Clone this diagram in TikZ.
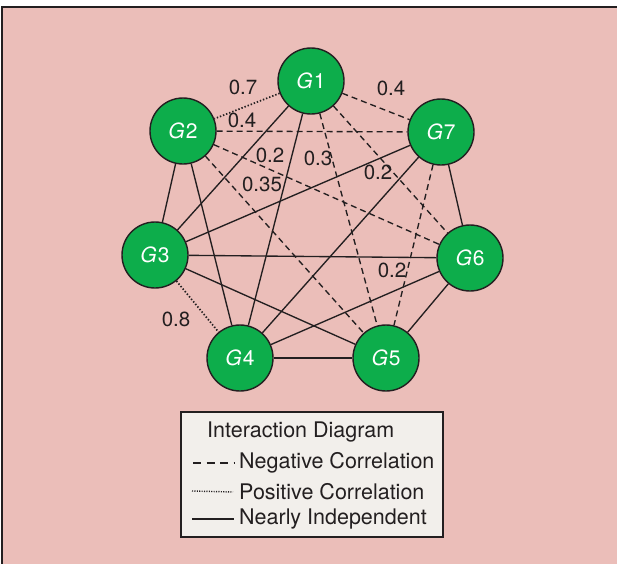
\documentclass[tikz,border=0pt]{standalone}
\usepackage{fontspec}
\setmainfont{TeX Gyre Heros}
\definecolor{bgpink}{RGB}{235,190,185}
\definecolor{gnode}{RGB}{13,173,75}
\definecolor{ink}{RGB}{35,31,32}
\definecolor{legfill}{RGB}{242,239,235}
\begin{document}
\begin{tikzpicture}[x=1pt,y=-1pt,
  gene/.style={circle,draw=ink,line width=1.4pt,fill=gnode,minimum size=66pt,inner sep=0pt,
    text=white,font=\fontsize{21}{22}\selectfont},
  indep/.style={draw=ink,line width=1.35pt},
  negcor/.style={draw=ink,line width=1.35pt,dash pattern=on 6pt off 4pt},
  poscor/.style={draw=ink,line width=1.7pt,dash pattern=on 1.4pt off 1.9pt},
  wlabel/.style={text=ink,font=\fontsize{20.5}{22}\selectfont,inner sep=0pt},
  legtext/.style={text=ink,font=\fontsize{21.5}{23}\selectfont,inner sep=0pt,anchor=west}]
\useasboundingbox (0,0) rectangle (617,563);
% panel
\fill[white] (0,0) rectangle (617,563);
\filldraw[fill=bgpink,draw=ink,line width=1.5pt] (2,7) rectangle (625,575);

% genes
\node[gene] (g1) at (311,81)  {\textit{G}\kern1pt1};
\node[gene] (g2) at (183,131) {\textit{G}\kern1pt2};
\node[gene] (g7) at (441,132) {\textit{G}\kern1pt7};
\node[gene] (g3) at (155,255) {\textit{G}\kern1pt3};
\node[gene] (g6) at (470,258) {\textit{G}\kern1pt6};
\node[gene] (g4) at (240,358) {\textit{G}\kern1pt4};
\node[gene] (g5) at (386,358) {\textit{G}\kern1pt5};

% nearly independent pairs
\path[indep] (g1) -- (g3);
\path[indep] (g1) -- (g4);
\path[indep] (g2) -- (g3);
\path[indep] (g2) -- (g4);
\path[indep] (g3) -- (g7);
\path[indep] (g3) -- (g6);
\path[indep] (g3) -- (g5);
\path[indep] (g4) -- (g7);
\path[indep] (g4) -- (g6);
\path[indep] (g4) -- (g5);
\path[indep] (g5) -- (g6);
\path[indep] (g6) -- (g7);
% negatively correlated pairs
\path[negcor] (g1) -- (g7);
\path[negcor] (g2) -- (g7);
\path[negcor] (g2) -- (g6);
\path[negcor] (g1) -- (g5);
\path[negcor] (g2) -- (g5);
\path[negcor] (g1) -- (g6);
\path[negcor] (g7) -- (g5);
% positively correlated pairs
\path[poscor] (g1) -- (g2);
\path[poscor] (g3) -- (g4);

% weights
\node[wlabel] (w12) at (243,87)  {0.7};
\node[wlabel] (w17) at (391,88)  {0.4};
\node[wlabel] (w27) at (242,120) {0.4};
\node[wlabel] (w26) at (270,155) {0.2};
\node[wlabel] (w15) at (318,158) {0.3};
\node[wlabel] (w25) at (262,184) {0.35};
\node[wlabel] (w16) at (378,172) {0.2};
\node[wlabel] (w75) at (392,270) {0.2};
\node[wlabel] (w34) at (176,319) {0.8};

% legend
\node[draw=ink,fill=legfill,line width=1.2pt,minimum width=262pt,minimum height=125pt,inner sep=0pt]
  (legend) at (312,474.5) {};
\node[legtext] (ltitle) at (207,432) {Interaction Diagram};
\node[legtext] (lneg) at (239,463) {Negative Correlation};
\node[legtext] (lpos) at (239,492) {Positive Correlation};
\node[legtext] (lind) at (239,519) {Nearly Independent};
\coordinate (nega) at (193,463);
\coordinate (posa) at (192,491);
\coordinate (inda) at (192,519);
\draw[ink,line width=1.4pt,dash pattern=on 8pt off 5.5pt] (nega) -- ([xshift=-4pt]lneg.west);
\draw[ink,line width=1.4pt,dash pattern=on 1.1pt off 1.3pt] (posa) -- ([xshift=-6pt]lpos.west);
\draw[ink,line width=1.4pt] (inda) -- ([xshift=-5pt]lind.west);
\end{tikzpicture}
\end{document}
